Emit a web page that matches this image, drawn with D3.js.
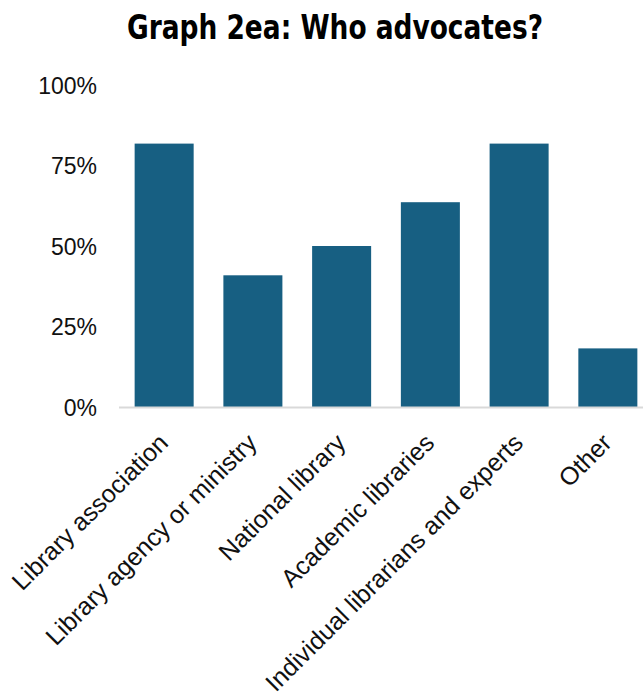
<!DOCTYPE html>
<html>
<head>
<meta charset="utf-8">
<script src="https://cdn.jsdelivr.net/npm/d3@7"></script>
<style>
  html, body { margin: 0; padding: 0; background: #fff; }
  svg { display: block; }
</style>
</head>
<body>
<script>
// Who advocates? — share of respondents naming each advocate
const categories = [
  "Library association",
  "Library agency or ministry",
  "National library",
  "Academic libraries",
  "Individual librarians and experts",
  "Other"
];
const shares = [0.818, 0.409, 0.5, 0.636, 0.818, 0.182];
const yTicks = [0, 0.25, 0.5, 0.75, 1];

const W = 643, H = 697;
const svg = d3.select("body").append("svg").attr("width", W).attr("height", H);

const x = d3.scaleBand().domain(categories).range([120, 652]).paddingInner(0.335).paddingOuter(0.165);
const y = d3.scaleLinear().domain([0, 1]).range([407, 85]);

// title
svg.append("text")
  .attr("x", 335).attr("y", 39)
  .attr("text-anchor", "middle")
  .attr("font-family", "'Liberation Sans Narrow', 'DejaVu Sans Condensed', sans-serif")
  .attr("font-weight", "bold")
  .attr("font-size", 33)
  .attr("textLength", 416)
  .attr("lengthAdjust", "spacingAndGlyphs")
  .attr("fill", "#000")
  .text("Graph 2ea: Who advocates?");

// bars
svg.append("g").selectAll("rect").data(categories).join("rect")
  .attr("x", d => x(d))
  .attr("width", x.bandwidth())
  .attr("y", (d, i) => y(shares[i]))
  .attr("height", (d, i) => y(0) - y(shares[i]))
  .attr("fill", "#175f82");

// y axis (labels only)
const yAxis = d3.axisLeft(y).tickValues(yTicks).tickFormat(d3.format(".0%")).tickSize(0).tickPadding(0);
const gy = svg.append("g").attr("transform", "translate(97,0)").call(yAxis);
gy.select(".domain").remove();
gy.selectAll("text")
  .attr("font-family", "'Liberation Sans', Arial, sans-serif")
  .attr("font-size", 23)
  .attr("fill", "#111")
  .attr("dy", "0.36em");

// x baseline and rotated category labels
svg.append("line")
  .attr("x1", 119).attr("x2", W)
  .attr("y1", y(0) + 0.5).attr("y2", y(0) + 0.5)
  .attr("stroke", "#d9d9d9").attr("stroke-width", 2);

const xAxis = d3.axisBottom(x).tickSize(0).tickPadding(0);
const gx = svg.append("g").attr("transform", `translate(0,${y(0)})`).call(xAxis);
gx.select(".domain").remove();
gx.selectAll("text")
  .attr("font-family", "'Liberation Sans', Arial, sans-serif")
  .attr("font-size", 25)
  .attr("fill", "#111")
  .attr("text-anchor", "end")
  .attr("dy", "0.7em")
  .attr("transform", "translate(-7,25) rotate(-45)");
</script>
</body>
</html>
